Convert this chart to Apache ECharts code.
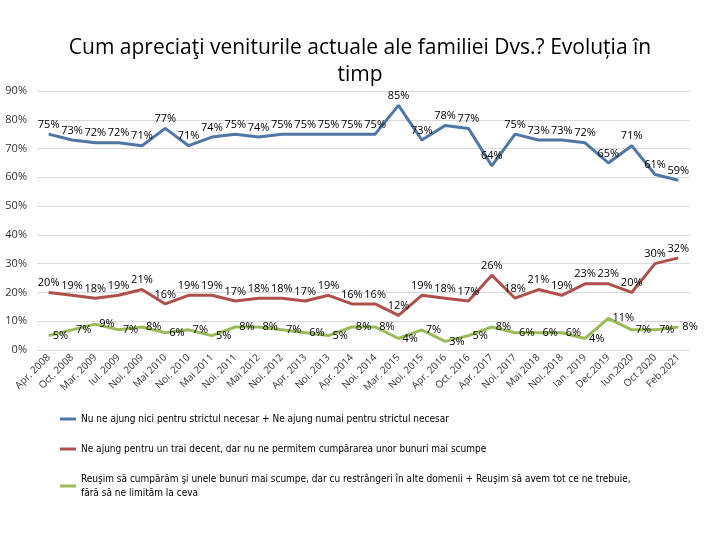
<!DOCTYPE html>
<html><head><meta charset="utf-8">
<script src="https://cdn.jsdelivr.net/npm/echarts@6/dist/echarts.min.js"></script>
<style>html,body{margin:0;padding:0;background:#fff}#c{width:720px;height:540px}</style>
</head><body><div id="c"></div>
<script>
const categories = ['Apr. 2008','Oct. 2008','Mar. 2009','Iul. 2009','Noi. 2009','Mai 2010','Noi. 2010','Mai 2011','Noi. 2011','Mai 2012','Noi. 2012','Apr. 2013','Noi. 2013','Apr. 2014','Noi. 2014','Mar. 2015','Noi. 2015','Apr. 2016','Oct. 2016','Apr. 2017','Noi. 2017','Mai 2018','Noi. 2018','Ian. 2019','Dec.2019','Iun.2020','Oct 2020','Feb.2021'];
const blueValues = [75,73,72,72,71,77,71,74,75,74,75,75,75,75,75,85,73,78,77,64,75,73,73,72,65,71,61,59];
const redValues = [20,19,18,19,21,16,19,19,17,18,18,17,19,16,16,12,19,18,17,26,18,21,19,23,23,20,30,32];
const greenValues = [5,7,9,7,8,6,7,5,8,8,7,6,5,8,8,4,7,3,5,8,6,6,6,4,11,7,7,8];
const seriesNames = [
  'Nu ne ajung nici pentru strictul necesar + Ne ajung numai pentru strictul necesar',
  'Ne ajung pentru un trai decent, dar nu ne permitem cumpărarea unor bunuri mai scumpe',
  'Reuşim să cumpărăm şi unele bunuri mai scumpe, dar cu restrângeri în alte domenii + Reuşim să avem tot ce ne trebuie, fără să ne limităm la ceva'
];
const titleText = 'Cum apreciaţi veniturile actuale ale familiei Dvs.? Evoluția în\ntimp';

const font = '"Open Sans", "Noto Sans", sans-serif';
const legendFont = '"DejaVu Sans Condensed", "Liberation Sans", sans-serif';
function mk(name, data, color, pos) {
  return {
    name, type: 'line', data, symbol: 'circle', symbolSize: 0, showSymbol: true, showAllSymbol: true,
    lineStyle: { width: 3, color }, itemStyle: { color },
    label: { show: true, position: pos, formatter: p => p.value + '%', color: '#000', fontSize: 11, fontFamily: font, distance: 4 },
    labelLayout: { hideOverlap: false }
  };
}
const chart = echarts.init(document.getElementById('c'));
chart.setOption({
  animation: false,
  title: { text: titleText, left: 'center', top: 30, textStyle: { fontFamily: font, fontSize: 21, fontWeight: 'normal', color: '#000', lineHeight: 27 } },
  grid: { left: 37, right: 30, top: 91, bottom: 190, containLabel: false },
  xAxis: {
    type: 'category', data: categories, boundaryGap: true,
    axisLine: { show: false }, axisTick: { show: false },
    axisLabel: { rotate: 45, interval: 0, fontSize: 10, color: '#333', fontFamily: font, margin: 6 }
  },
  yAxis: {
    type: 'value', min: 0, max: 90, interval: 10,
    axisLabel: { formatter: '{value}%', fontSize: 11, color: '#333', fontFamily: font, margin: 10 },
    splitLine: { lineStyle: { color: '#d9d9d9' } }, axisLine: { show: false }
  },
  legend: {
    orient: 'vertical', left: 55, top: 407, itemGap: 16, itemWidth: 16, itemHeight: 3,
    icon: 'rect',
    formatter: n => n.replace(' fără', '\nfără'),
    textStyle: { fontFamily: legendFont, fontSize: 10, color: '#000', lineHeight: 14 },
    data: seriesNames
  },
  series: [
    mk(seriesNames[0], blueValues, '#4F76A4', 'top'),
    mk(seriesNames[1], redValues, '#B0504D', 'top'),
    mk(seriesNames[2], greenValues, '#9BBB59', 'right')
  ]
});
</script></body></html>
